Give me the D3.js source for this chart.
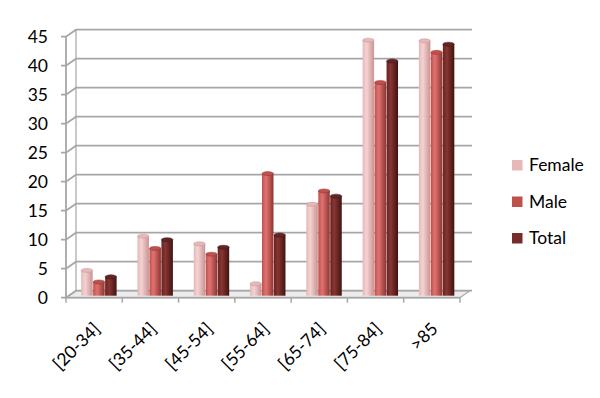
<!DOCTYPE html>
<html>
<head>
<meta charset="utf-8">
<script src="https://cdn.jsdelivr.net/npm/d3@7"></script>
<style>
body { margin: 0; background: #fff; }
text { font-family: Lato, "Open Sans", sans-serif; fill: #000; }
</style>
</head>
<body>
<script>
var categories = ["[20-34]", "[35-44]", "[45-54]", "[55-64]", "[65-74]", "[75-84]", ">85"];
var series = ["Female", "Male", "Total"];
var female = [4.1, 10.0, 8.7, 1.8, 15.5, 43.8, 43.7];
var male = [2.1, 7.9, 6.9, 20.8, 17.8, 36.5, 41.7];
var total = [3.0, 9.4, 8.1, 10.2, 16.9, 40.2, 43.1];
var yTicks = [0, 5, 10, 15, 20, 25, 30, 35, 40, 45];
var colors = {Female: ["#f3d3d2", "#e6b8b7", "#c99392"], Male: ["#e07370", "#c0504d", "#8f3532"], Total: ["#8a3532", "#632523", "#3f1412"]};
var legendColors = {Female: "#e6b9b8", Male: "#c0504d", Total: "#772c2a"};

var w = 600, h = 398;
var dx = 10, dy = -7;

var svg = d3.select("body").append("svg").attr("width", w).attr("height", h);

var defs = svg.append("defs");
series.forEach(function(s) {
  var g = defs.append("linearGradient").attr("id", "g" + s).attr("x1", 0).attr("x2", 1).attr("y1", 0).attr("y2", 0);
  g.append("stop").attr("offset", "0%").attr("stop-color", colors[s][1]);
  g.append("stop").attr("offset", "35%").attr("stop-color", colors[s][0]);
  g.append("stop").attr("offset", "100%").attr("stop-color", colors[s][2]);
});

var y = d3.scaleLinear().domain([0, 45]).range([297.7, 36.7]);
var x = d3.scaleBand().domain(categories).range([66, 460]).paddingInner(0).paddingOuter(0);
var xs = d3.scaleBand().domain(series).range([0, x.bandwidth()]).paddingOuter(0.85).paddingInner(0);

var grid = "#a6a6a6";

// floor
svg.append("path")
  .attr("d", "M66," + y(0) + "L460," + y(0) + "L" + (460 + dx) + "," + (y(0) + dy) + "L" + (66 + dx) + "," + (y(0) + dy) + "Z")
  .attr("fill", "#ececec").attr("stroke", grid).attr("stroke-width", 1.2);

// back wall gridlines + side wall diagonals
var gl = svg.append("g");
yTicks.forEach(function(t) {
  gl.append("path")
    .attr("d", "M61," + y(t) + "L66," + y(t) + "L" + (66 + dx) + "," + (y(t) + dy) + "L472," + (y(t) + dy))
    .attr("fill", "none").attr("stroke", grid).attr("stroke-width", 1.8);
});
gl.append("line").attr("x1", 66).attr("x2", 66).attr("y1", y(0)).attr("y2", y(45)).attr("stroke", grid).attr("stroke-width", 1.8);
gl.append("line").attr("x1", 66 + dx).attr("x2", 66 + dx).attr("y1", y(0) + dy).attr("y2", y(45) + dy).attr("stroke", grid).attr("stroke-width", 1.2);

d3.range(categories.length + 1).forEach(function(i) {
  var xx = 66 + i * x.bandwidth();
  gl.append("line").attr("x1", xx).attr("x2", xx).attr("y1", y(0)).attr("y2", y(0) + 5).attr("stroke", grid).attr("stroke-width", 1.5);
});
gl.append("line").attr("x1", 66).attr("x2", 460).attr("y1", y(0)).attr("y2", y(0)).attr("stroke", grid).attr("stroke-width", 1.8);

// y labels
svg.append("g").selectAll("text").data(yTicks).enter().append("text")
  .attr("x", 48).attr("y", function(d) { return y(d) + 6; })
  .attr("text-anchor", "end").style("font-size", "17.5px")
  .text(function(d) { return d; });

// bars
var data = [];
categories.forEach(function(c, i) {
  data.push({c: c, s: "Female", v: female[i]});
  data.push({c: c, s: "Male", v: male[i]});
  data.push({c: c, s: "Total", v: total[i]});
});
var bx = function(d) { return x(d.c) + xs(d.s) + dx / 2; };
var by = function(v) { return y(v) + dy / 2; };
var bw = xs.bandwidth() - 0.5;
var bars = svg.append("g").selectAll("g").data(data).enter().append("g");
bars.append("rect")
  .attr("x", bx).attr("width", bw)
  .attr("y", function(d) { return by(d.v); })
  .attr("height", function(d) { return by(0) - by(d.v) + 1.5; })
  .attr("fill", function(d) { return "url(#g" + d.s + ")"; });
bars.append("ellipse")
  .attr("cx", function(d) { return bx(d) + bw / 2; })
  .attr("cy", function(d) { return by(d.v); })
  .attr("rx", bw / 2).attr("ry", 2)
  .attr("fill", function(d) { return colors[d.s][1]; })
  .attr("stroke", function(d) { return colors[d.s][2]; }).attr("stroke-width", 0.5);

// x labels
svg.append("g").selectAll("text").data(categories).enter().append("text")
  .attr("transform", function(d) { return "translate(" + (x(d) + x.bandwidth() / 2 + 7) + ",330) rotate(-45)"; })
  .attr("text-anchor", "end").style("font-size", "17.5px")
  .text(function(d) { return d; });

// legend
var lg = svg.append("g").selectAll("g").data(series).enter().append("g")
  .attr("transform", function(d, i) { return "translate(512," + (160 + i * 36.5) + ")"; });
lg.append("rect").attr("width", 10.5).attr("height", 10.5).attr("fill", function(d) { return legendColors[d]; });
lg.append("text").attr("x", 17).attr("y", 11).style("font-size", "17.5px").text(function(d) { return d; });
</script>
</body>
</html>
